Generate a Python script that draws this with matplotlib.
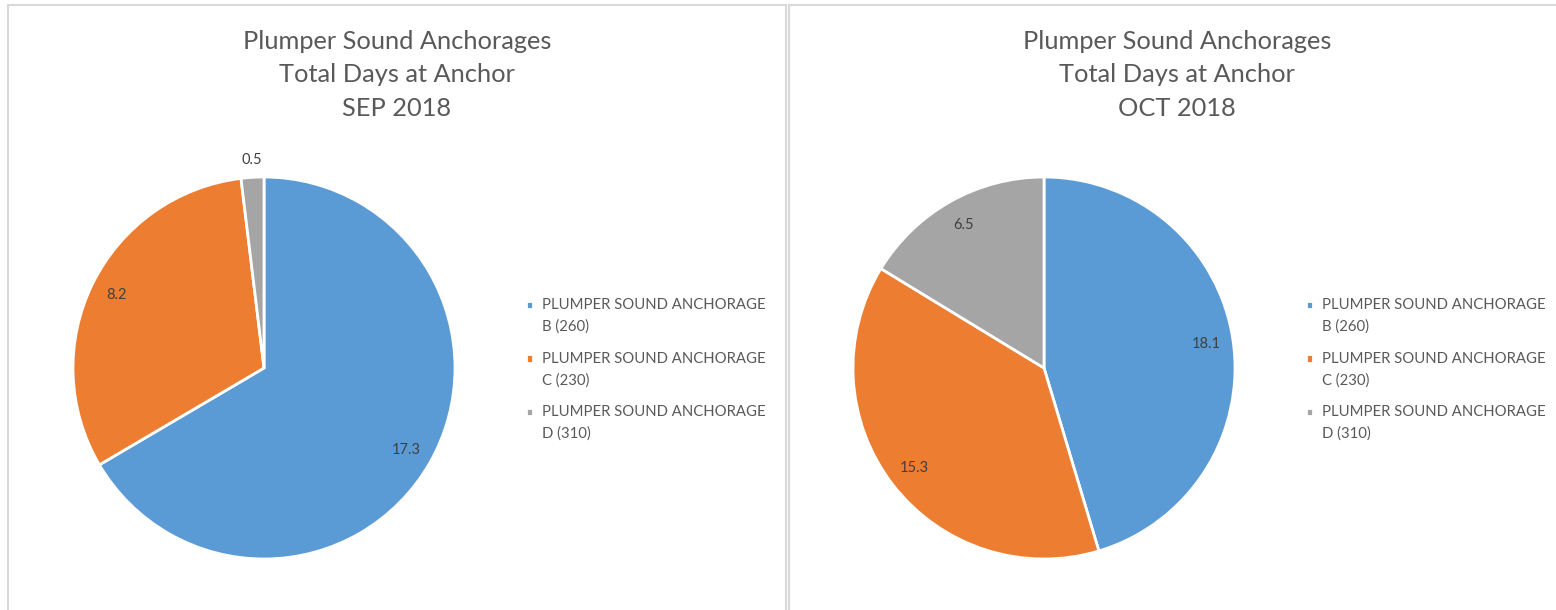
import matplotlib.pyplot as plt
from matplotlib.patches import Rectangle
import numpy as np

plt.rcParams['font.family'] = ['Lato', 'DejaVu Sans']

# data
categories = ['PLUMPER SOUND ANCHORAGE\nB (260)',
              'PLUMPER SOUND ANCHORAGE\nC (230)',
              'PLUMPER SOUND ANCHORAGE\nD (310)']
months = ['SEP 2018', 'OCT 2018']
sep_days = [17.3, 8.2, 0.5]
oct_days = [18.1, 15.3, 6.5]
colors = ['#5B9BD5', '#ED7D31', '#A5A5A5']

W, H = 1556, 610
fig = plt.figure(figsize=(W / 100, H / 100), dpi=100)

def px_axes(cx, cy, r):
    return fig.add_axes([(cx - r) / W, 1 - (cy + r) / H, 2 * r / W, 2 * r / H])

# panel borders
for x0, x1 in [(8, 786), (789, 1570)]:
    fig.patches.append(Rectangle((x0 / W, -0.05), (x1 - x0) / W, 1.05 - 5 / H,
                                 transform=fig.transFigure, fill=False,
                                 edgecolor='#d9d9d9', linewidth=1.5))

panels = [(264, sep_days, months[0], 397), (1044, oct_days, months[1], 1177)]
for cx, vals, month, tx in panels:
    ax = px_axes(cx, 368, 191)
    wedges, _ = ax.pie(vals, colors=colors, startangle=90, counterclock=False,
                       radius=1, wedgeprops=dict(edgecolor='white', linewidth=2))
    ax.set_xlim(-1, 1)
    ax.set_ylim(-1, 1)
    ax.set_aspect('equal')
    ax.axis('off')
    for w, v in zip(wedges, vals):
        ang = np.deg2rad((w.theta1 + w.theta2) / 2)
        frac = v / sum(vals)
        d = 1.09 if frac < 0.05 else 0.86
        ax.text(d * np.cos(ang), d * np.sin(ang), f'{v:.1f}', ha='center', va='center',
                fontsize=10.5, color='#404040')
    fig.text(tx / W, 1 - 75 / H, 'Plumper Sound Anchorages\nTotal Days at Anchor\n' + month,
             ha='center', va='center', fontsize=18.3, color='#595959', linespacing=1.55)
    leg = fig.legend(wedges, categories, loc='upper left',
                     bbox_to_anchor=((cx + 262) / W, 1 - 298 / H),
                     frameon=False, fontsize=10.7, handlelength=0.5, handleheight=0.5,
                     handletextpad=0.6, labelspacing=1.2, borderaxespad=0, borderpad=0,
                     labelcolor='#595959')
    for t in leg.get_texts():
        t.set_linespacing(1.65)
    # put the colour square beside the first line of each label
    for h in leg.legend_handles:
        h.set_y(h.get_y() + 8)

fig.savefig('out.png', dpi=100)
